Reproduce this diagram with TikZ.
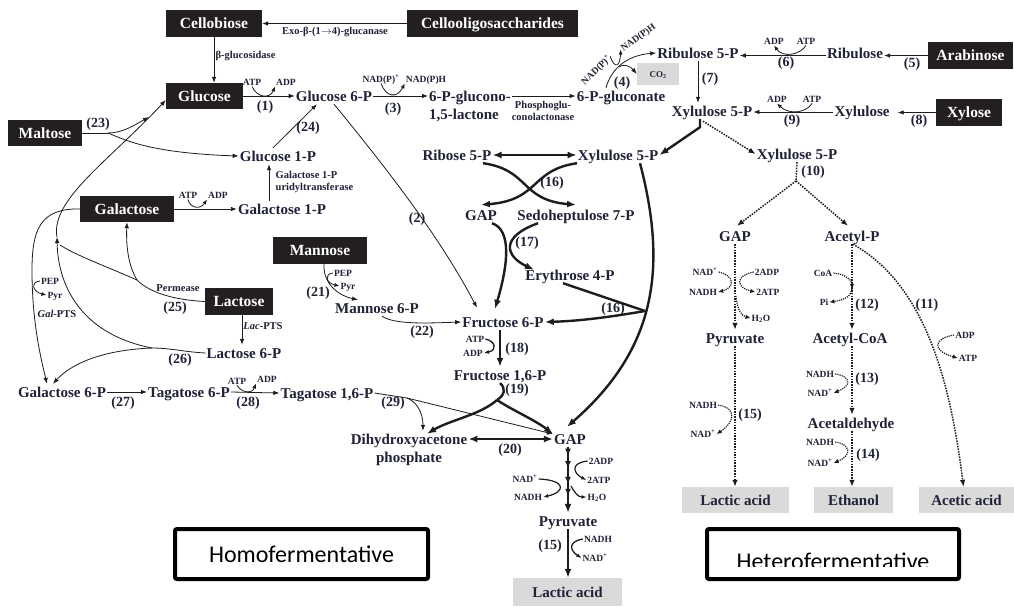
\documentclass[tikz,border=0pt]{standalone}
\usepackage{fontspec}
\setmainfont{Liberation Serif}
\newfontfamily\calibrifont{Carlito}
\usetikzlibrary{arrows.meta,decorations.markings}
\definecolor{ink}{RGB}{32,34,56}
\definecolor{boxc}{RGB}{35,31,32}
\definecolor{grayc}{RGB}{218,218,218}
\definecolor{linec}{RGB}{30,28,30}
\begin{document}
\begin{tikzpicture}[x=1pt,y=-1pt,
  met/.style={font=\bfseries\fontsize{15}{17}\selectfont, text=ink, text height=10pt, text depth=0pt, inner xsep=1pt, inner ysep=3pt},
  blk/.style={fill=boxc, text=white, font=\bfseries\fontsize{15.5}{17}\selectfont, text height=10.3pt, text depth=0pt, inner sep=0pt},
  gry/.style={fill=grayc, text=ink, font=\bfseries\fontsize{15}{17}\selectfont, text height=10pt, text depth=0pt, inner sep=0pt},
  num/.style={font=\bfseries\fontsize{14}{16}\selectfont, text=ink, text height=10pt, text depth=3pt, inner sep=0pt},
  cof/.style={font=\bfseries\fontsize{9.5}{10}\selectfont, text=ink, text height=6.5pt, text depth=0pt, inner sep=1pt},
  enz/.style={font=\bfseries\fontsize{10.5}{12}\selectfont, text=ink, text height=7pt, text depth=0pt, inner sep=0.5pt},
  thinarr/.style={draw=linec, line width=0.8pt, -{Latex[length=6pt,width=4.5pt]}},
  thinln/.style={draw=linec, line width=0.8pt},
  thickarr/.style={draw=linec, line width=2.4pt, -{Latex[length=9pt,width=7pt]}},
  thickdbl/.style={draw=linec, line width=2.4pt, {Latex[length=9pt,width=7pt]}-{Latex[length=9pt,width=7pt]}},
  thickln/.style={draw=linec, line width=2.4pt},
  hook/.style={draw=linec, line width=0.8pt, -{Latex[length=5pt,width=4pt]}},
  dotln/.style={draw=linec, line width=1.5pt, dash pattern=on 1.5pt off 1.2pt},
  dotarr/.style={dotln, -{Latex[length=7pt,width=5.5pt]}},
  dothook/.style={draw=linec, line width=1.2pt, dash pattern=on 1.2pt off 1pt, -{Latex[length=5pt,width=4.5pt]}},
  fatbox/.style={draw=black, line width=4pt, rounded corners=2pt, fill=white}
]
\useasboundingbox (0,0) rectangle (1014,606);
\fill[white] (0,0) rectangle (1014,606);

% ---------- black boxes
\node[blk, minimum width=96pt, minimum height=27pt] (cellobiose) at (214,23.5) {Cellobiose};
\node[blk, minimum width=171pt, minimum height=27pt] (cello) at (492.5,23.5) {Cellooligosaccharides};
\node[blk, minimum width=77pt, minimum height=26pt] (glucose) at (204.5,96) {Glucose};
\node[blk, minimum width=74pt, minimum height=26pt] (maltose) at (45,133) {Maltose};
\node[blk, minimum width=94pt, minimum height=26pt] (galactose) at (127,209) {Galactose};
\node[blk, minimum width=94pt, minimum height=27pt] (mannose) at (320,250.5) {Mannose};
\node[blk, minimum width=68pt, minimum height=27pt] (lactose) at (239,301.5) {Lactose};
\node[blk, minimum width=85pt, minimum height=27pt] (arabinose) at (970.5,55.5) {Arabinose};
\node[blk, minimum width=66pt, minimum height=27pt] (xylose) at (969,112.5) {Xylose};

% ---------- grey boxes
\node[gry, minimum width=42pt, minimum height=22pt, font=\bfseries\fontsize{9}{10}\selectfont, text height=6pt] (co2) at (658,74) {CO\textsubscript{2}};
\node[gry, minimum width=109pt, minimum height=28pt] (lactic1) at (567.5,592) {Lactic acid};
\node[gry, minimum width=107pt, minimum height=26pt] (lactic2) at (735.5,500) {Lactic acid};
\node[gry, minimum width=79pt, minimum height=26pt] (ethanol) at (853.5,500) {Ethanol};
\node[gry, minimum width=95pt, minimum height=26pt] (acetic) at (966.5,500) {Acetic acid};

% ---------- metabolites
\node[met] (g6p) at (334,96) {Glucose 6-P};
\node[met, anchor=west] (gla) at (428,96) {6-P-glucono-};
\node[met, anchor=west] (glb) at (428,114) {1,5-lactone};
\node[met] (gcn) at (621,96) {6-P-gluconate};
\node[met] (ru5p) at (698,53) {Ribulose 5-P};
\node[met] (ribulose) at (855,53) {Ribulose};
\node[met] (xu5p1) at (712,111) {Xylulose 5-P};
\node[met] (xylulose) at (862,111) {Xylulose};
\node[met] (xu5p3) at (797,154) {Xylulose 5-P};
\node[met] (r5p) at (457,155) {Ribose 5-P};
\node[met] (xu5p2) at (618,155) {Xylulose 5-P};
\node[met] (gap1) at (481,215) {GAP};
\node[met] (s7p) at (576,215) {Sedoheptulose 7-P};
\node[met] (e4p) at (570,275) {Erythrose 4-P};
\node[met] (f6p) at (503,322) {Fructose 6-P};
\node[met] (fbp) at (500,375) {Fructose 1,6-P};
\node[met] (dhapa) at (409,439) {Dihydroxyacetone};
\node[met] (dhapb) at (409,457) {phosphate};
\node[met] (gap2) at (570,439) {GAP};
\node[met] (pyr1) at (568,521) {Pyruvate};
\node[met] (m6p) at (377,308) {Mannose 6-P};
\node[met] (g1p) at (278,156) {Glucose 1-P};
\node[met] (gal1p) at (282,209) {Galactose 1-P};
\node[met] (lac6p) at (244,353) {Lactose 6-P};
\node[met] (gal6p) at (62,392) {Galactose 6-P};
\node[met] (tag6p) at (189,392) {Tagatose 6-P};
\node[met] (tag16p) at (327,393) {Tagatose 1,6-P};
\node[met] (gap3) at (735,236) {GAP};
\node[met] (acp) at (852,236) {Acetyl-P};
\node[met] (pyr2) at (735,338) {Pyruvate};
\node[met] (acoa) at (850,338) {Acetyl-CoA};
\node[met] (acald) at (851,423) {Acetaldehyde};

% ---------- reaction numbers
\node[num] (n1) at (265,107) {(1)};
\node[num] (n2) at (417,219) {(2)};
\node[num] (n3) at (393,109) {(3)};
\node[num] (n4) at (622,83) {(4)};
\node[num] (n5) at (912,64) {(5)};
\node[num] (n6) at (786,63) {(6)};
\node[num] (n7) at (710,79) {(7)};
\node[num] (n8) at (919,121) {(8)};
\node[num] (n9) at (792,121) {(9)};
\node[num] (n10) at (813,172) {(10)};
\node[num] (n11) at (927,305) {(11)};
\node[num] (n12) at (867,305) {(12)};
\node[num] (n13) at (867,379) {(13)};
\node[num] (n14) at (868,455) {(14)};
\node[num] (n15r) at (750,415) {(15)};
\node[num] (n15m) at (550,546) {(15)};
\node[num] (n16a) at (552,183) {(16)};
\node[num] (n16b) at (613,309) {(16)};
\node[num] (n17) at (527,243) {(17)};
\node[num] (n18) at (517,349) {(18)};
\node[num] (n19) at (517,390) {(19)};
\node[num] (n20) at (510,450) {(20)};
\node[num] (n21) at (318,293) {(21)};
\node[num] (n22) at (422,332) {(22)};
\node[num] (n23) at (98,124) {(23)};
\node[num] (n24) at (308,128) {(24)};
\node[num] (n25) at (175,308) {(25)};
\node[num] (n26) at (180,360) {(26)};
\node[num] (n27) at (123,403) {(27)};
\node[num] (n28) at (248,403) {(28)};
\node[num] (n29) at (393,403) {(29)};

% ---------- enzyme labels
\node[enz] (exo) at (335,31) {Exo-β-(1$\rightarrow$4)-glucanase};
\node[enz, anchor=west] (bgl) at (215,55) {β-glucosidase};
\node[enz] (pgla) at (543,105) {Phosphoglu-};
\node[enz] (pglb) at (543,117) {conolactonase};
\node[enz, anchor=west] (uria) at (275,175) {Galactose 1-P};
\node[enz, anchor=west] (urib) at (275,187) {uridyltransferase};
\node[enz] (perm) at (178,288) {Permease};
\node[enz] (lacpts) at (263,326) {\textit{Lac}-PTS};
\node[enz] (galpts) at (57,314) {\textit{Gal}-PTS};

% ---------- cofactor labels
\node[cof] (a1) at (252,82) {ATP};
\node[cof] (d1) at (286,82) {ADP};
\node[cof] (a2) at (188,195) {ATP};
\node[cof] (d2) at (218,195) {ADP};
\node[cof] (a28) at (237,381) {ATP};
\node[cof] (d28) at (267,379) {ADP};
\node[cof] (np3) at (381,79) {NAD(P)\textsuperscript{+}};
\node[cof] (nh3) at (426,79) {NAD(P)H};
\node[cof, rotate=44] (np4) at (596,70) {NAD(P)\textsuperscript{+}};
\node[cof, rotate=36] (nh4) at (638,37) {NAD(P)H};
\node[cof] (a6) at (806,41) {ATP};
\node[cof] (d6) at (774,41) {ADP};
\node[cof] (a9) at (812,99) {ATP};
\node[cof] (d9) at (777,99) {ADP};
\node[cof] (pepA) at (50,281) {PEP};
\node[cof] (pyrA) at (55,295) {Pyr};
\node[cof] (pepB) at (343,273) {PEP};
\node[cof] (pyrB) at (348,286) {Pyr};
\node[cof] (atp18) at (475,339) {ATP};
\node[cof] (adp18) at (473,353) {ADP};
\node[cof] (adpM) at (601,461) {2ADP};
\node[cof] (atpM) at (599,480) {2ATP};
\node[cof] (nadM) at (525,479) {NAD\textsuperscript{+}};
\node[cof] (nadhM) at (528,497) {NADH};
\node[cof] (h2oM) at (597,497) {H\textsubscript{2}O};
\node[cof] (nadhE) at (598,539) {NADH};
\node[cof] (nadE) at (595,558) {NAD\textsuperscript{+}};
\node[cof] (nadA) at (705,272) {NAD\textsuperscript{+}};
\node[cof] (nadhA) at (703,292) {NADH};
\node[cof] (adpA) at (767,272) {2ADP};
\node[cof] (atpA) at (768,292) {2ATP};
\node[cof] (h2oA) at (761,318) {H\textsubscript{2}O};
\node[cof] (coaA) at (823,273) {CoA};
\node[cof] (piA) at (824,302) {Pi};
\node[cof] (adpB) at (965,335) {ADP};
\node[cof] (atpB) at (968,358) {ATP};
\node[cof] (nadhC) at (820,374) {NADH};
\node[cof] (nadC) at (820,393) {NAD\textsuperscript{+}};
\node[cof] (nadhB) at (703,405) {NADH};
\node[cof] (nadB) at (703,434) {NAD\textsuperscript{+}};
\node[cof] (nadhD) at (820,442) {NADH};
\node[cof] (nadD) at (820,463) {NAD\textsuperscript{+}};

% ---------- junction coordinates
\coordinate (m23) at (149,117);
\coordinate (m23b) at (108,133);
\coordinate (j25) at (57,237);
\coordinate (j25b) at (137,280);
\coordinate (j25c) at (60,245);
\coordinate (j26) at (152,348);
\coordinate (j4) at (619,67);
\coordinate (j16) at (645,311);
\coordinate (j19) at (497,400);
\coordinate (j29) at (407,398);
\coordinate (j10) at (796,181);
\coordinate (j12) at (852,289);
\coordinate (h2oS) at (736,296);
\coordinate (h2oMS) at (571,486);

% ---------- top: cellulose, glucose
\draw[thinarr] (cello.west) -- (cellobiose.east);
\draw[thinarr] (cellobiose.south) -- (cellobiose.south |- glucose.north);
\draw[thinarr] (glucose.east) -- (g6p.west);
\draw[hook] (a1.south) .. controls (257,98) and (270,99) .. (d1.south west);
\draw[thinarr] (g6p.east) -- (g6p.east -| gla.west);
\draw[hook] (np3.south) .. controls (386,97) and (397,99) .. (nh3.south west);
\draw[thinarr] (gla.east |- gcn.west) -- (gcn.west);
\draw[thinarr] ([xshift=-15pt]gcn.north) .. controls (612,66) and (630,55) .. (ru5p.west);
\draw[thinarr] (j4) .. controls (625,63) and (631,67) .. (co2.west);
\draw[hook] (np4.east) .. controls (615,70) and (620,66) .. (nh4.west);

% ---------- arabinose / xylose
\draw[thinarr] (arabinose.west) -- (arabinose.west -| ribulose.east);
\draw[thinarr] (ribulose.west |- arabinose.west) -- (ru5p.east |- arabinose.west);
\draw[hook] (a6.south) .. controls (800,55) and (783,58) .. (d6.south);
\draw[thinarr] (ru5p.south) -- (ru5p.south |- xu5p1.north);
\draw[thinarr] (xylose.west) -- ([xshift=7pt]xylose.west -| xylulose.east);
\draw[thinarr] ([yshift=-1pt]xylulose.west) -- ([yshift=-1pt]xylulose.west -| xu5p1.east);
\draw[hook] (a9.south) .. controls (806,113) and (789,115) .. (d9.south);
\draw[thickarr] ([xshift=-12pt]xu5p1.south) -- ([xshift=-12pt,yshift=-8pt]xu5p1.south) -- (xu5p2.east);
\draw[dotarr] ([xshift=-9pt,yshift=-2pt]xu5p1.south) -- (xu5p3.west);

% ---------- pentose phosphate
\draw[thickdbl] (r5p.east) -- (xu5p2.west);
\draw[thickarr] ([xshift=26pt]r5p.south) .. controls (530,170) and (520,200) .. ([yshift=2pt]s7p.north);
\draw[thickarr] ([xshift=-41pt]xu5p2.south) .. controls (530,170) and (540,200) .. ([yshift=2pt]gap1.north);
\draw[thickarr] ([xshift=11pt]gap1.south) .. controls (512,230) and (508,265) .. ([xshift=-8pt,yshift=5pt]f6p.north);
\draw[thickarr] ([xshift=-38pt]s7p.south) .. controls (500,237) and (505,256) .. ([xshift=-36pt,yshift=-3pt]e4p.north);
\draw[thickln] ([xshift=-7pt]e4p.south) -- (j16);
\draw[thickarr] (j16) .. controls (610,317) and (580,321) .. (f6p.east);
\draw[thickarr] ([xshift=22pt]xu5p2.south) .. controls (668,270) and (655,350) .. ([xshift=-3pt,yshift=4pt]gap2.north);

% ---------- glycolysis
\draw[thinarr] (g6p.south) .. controls (393,176) and (442,241) .. ([xshift=-26pt,yshift=6pt]f6p.north);
\draw[thinarr] ([xshift=-5pt]g1p.north) -- ([xshift=-17pt]g6p.south);
\draw[thinarr] ([xshift=-13pt]gal1p.north) -- ([xshift=-13pt]gal1p.north |- g1p.south);
\draw[thickarr] ([xshift=-3pt]f6p.south) -- ([xshift=-3pt]f6p.south |- fbp.north);
\draw[hook, line width=1.3pt] (atp18.east) .. controls (495,341) and (498,350) .. (adp18.east);
\draw[thickln] (fbp.south) .. controls (506,388) and (505,395) .. (j19);
\draw[thickarr] (j19) .. controls (480,415) and (450,420) .. ([xshift=18pt,yshift=-3pt]dhapa.north);
\draw[thickarr] (j19) .. controls (512,410) and (535,420) .. ([yshift=5pt]gap2.west);
\draw[thickdbl] (dhapa.east) -- (gap2.west);
\draw[thickarr, postaction={decorate}, decoration={markings,
    mark=at position 0.13 with {\arrow{Latex[length=7pt,width=6pt]}},
    mark=at position 0.32 with {\arrow{Latex[length=7pt,width=6pt]}},
    mark=at position 0.56 with {\arrow{Latex[length=7pt,width=6pt]}},
    mark=at position 0.74 with {\arrow{Latex[length=7pt,width=6pt]}}}]
  ([xshift=-2pt]gap2.south) -- ([xshift=-2pt]gap2.south |- pyr1.north);
\draw[hook, line width=1.2pt] (adpM.west) .. controls (570,463) and (573,473) .. (atpM.west);
\draw[hook, line width=1.2pt] (nadM.east) .. controls (566,480) and (566,492) .. (nadhM.east);
\draw[hook, line width=1.2pt] (h2oMS) .. controls (575,493) and (578,497) .. (h2oM.west);
\draw[thickarr] (pyr1.south) -- (pyr1.south |- lactic1.north);
\draw[hook, line width=1.3pt] (nadhE.west) .. controls (570,541) and (568,549) .. (nadE.west);

% ---------- maltose, galactose, lactose, mannose
\draw[thinln] (maltose.east) -- (m23b);
\draw[thinarr] (m23b) .. controls (122,133) and (133,126) .. (m23);
\draw[thinarr] (m23b) .. controls (125,140) and (150,153) .. (g1p.west);
\draw[thinarr] (j25) .. controls (50,200) and (110,160) .. ([yshift=-4pt]glucose.west);
\draw[thinarr] (galactose.east) -- (gal1p.west);
\draw[hook] (a2.south) .. controls (190,208) and (200,210) .. (d2.south west);
\draw[thinln] (lactose.west) .. controls (175,300) and (150,293) .. (j25b);
\draw[thinarr] (j25b) .. controls (128,265) and (126,245) .. (galactose.south);
\draw[thinln] (j25b) .. controls (110,268) and (75,255) .. (j25c);
\draw[thinln] (lac6p.west) .. controls (185,352) and (170,348) .. (j26);
\draw[thinarr] (j26) .. controls (85,335) and (58,290) .. (j25);
\draw[thinarr] (j26) .. controls (100,350) and (70,365) .. ([xshift=-9pt]gal6p.north);
\draw[thinarr] (galactose.west) .. controls (40,208) and (32,230) .. (32,270) .. controls (32,320) and (40,355) .. ([xshift=-15pt]gal6p.north);
\draw[hook] (pepA.west) .. controls (30,282) and (33,292) .. (pyrA.west);
\draw[thinarr] ([xshift=3pt]lactose.south) -- ([xshift=3pt]lactose.south |- lac6p.north);
\draw[thinarr] ([xshift=4pt]mannose.south) .. controls (323,285) and (340,296) .. ([xshift=-19pt]m6p.north);
\draw[hook] (pepB.west) .. controls (324,274) and (326,283) .. (pyrB.west);
\draw[thinarr] ([xshift=5pt]m6p.south) .. controls (395,325) and (430,323) .. (f6p.west);
\draw[thinarr] (gal6p.east) -- (tag6p.west);
\draw[thinarr] (tag6p.east) -- (tag16p.west);
\draw[hook] (a28.south) .. controls (242,393) and (252,394) .. (d28.south west);
\draw[thinln] (tag16p.east) -- (j29);
\draw[thinarr] (j29) -- ([yshift=5pt]gap2.west);
\draw[thinarr] (j29) .. controls (417,402) and (423,413) .. ([xshift=14pt]dhapa.north);

% ---------- heterofermentative branch
\draw[dotln] (xu5p3.south) -- (j10);
\draw[dotarr] (j10) -- ([xshift=2pt,yshift=2pt]gap3.north);
\draw[dotarr] (j10) -- ([xshift=-4pt,yshift=2pt]acp.north);
\draw[dotarr] (gap3.south) -- (gap3.south |- pyr2.north);
\draw[dothook] (nadA.east) .. controls (736,276) and (734,288) .. (nadhA.east);
\draw[dothook] (adpA.west) .. controls (734,276) and (737,288) .. (atpA.west);
\draw[dothook] (h2oS) .. controls (737,310) and (742,316) .. (h2oA.west);
\draw[dotarr] (pyr2.south) -- (pyr2.south |- lactic2.north);
\draw[dothook] (nadhB.east) .. controls (737,408) and (735,422) .. (nadB.east);
\draw[dotarr] (acp.south) -- (acp.south |- acoa.north);
\draw[dothook] (coaA.east) .. controls (845,274) and (852,280) .. (j12);
\draw[dothook] (j12) .. controls (851,296) and (845,300) .. (piA.east);
\draw[dotarr] ([xshift=2pt]acoa.south) -- ([xshift=2pt]acoa.south |- acald.north);
\draw[dothook] (nadhC.east) .. controls (850,376) and (853,385) .. (nadC.east);
\draw[dotarr] ([xshift=1pt]acald.south) -- ([xshift=1pt]acald.south |- ethanol.north);
\draw[dothook] (nadhD.east) .. controls (850,444) and (853,455) .. (nadD.east);
\draw[dotarr] ([xshift=1pt]acp.south) .. controls (925,285) and (950,380) .. ([xshift=-3pt]acetic.north);
\draw[dothook] (adpB.west) .. controls (935,338) and (930,350) .. (atpB.west);

% ---------- category boxes
\node[fatbox, minimum width=253pt, minimum height=50pt, font=\calibrifont\fontsize{24}{26}\selectfont, text height=16pt, text depth=0pt] (homo) at (301.5,554) {Homofermentative};
\node[fatbox, minimum width=252pt, minimum height=50pt] (hetero) at (833,554) {};
\begin{scope}
  \clip (700,520) rectangle (970,566.5);
  \node[font=\calibrifont\fontsize{24}{26}\selectfont, anchor=base, inner sep=0pt] (heterot) at (833,569) {Heterofermentative};
\end{scope}
\end{tikzpicture}
\end{document}
